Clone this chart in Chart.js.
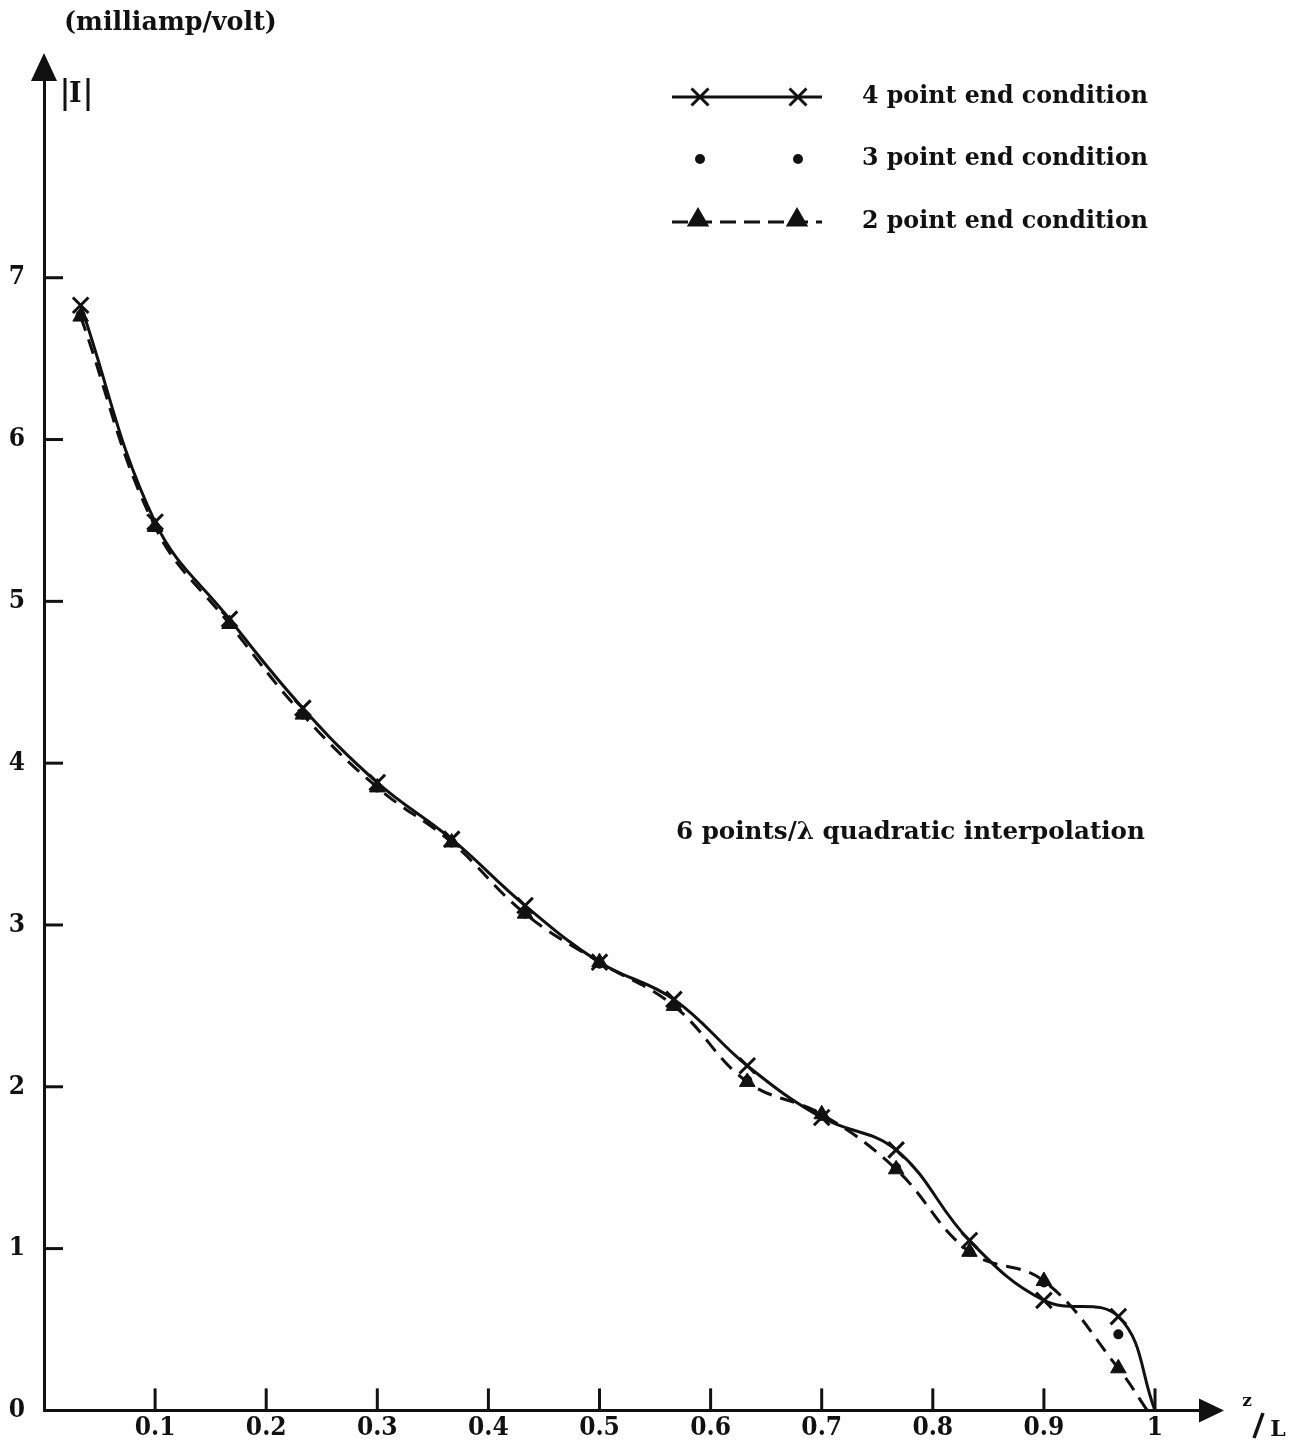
<!DOCTYPE html>
<html>
<head>
<meta charset="utf-8">
<script src="https://cdn.jsdelivr.net/npm/chart.js@4/dist/chart.umd.min.js"></script>
<style>
  html, body { margin: 0; padding: 0; background: #ffffff; }
  #wrap { width: 1290px; height: 1445px; }
</style>
</head>
<body>
<div id="wrap"><canvas id="c" width="1290" height="1445"></canvas></div>
<script>
// ---- data ----
const zPoints = [0.033, 0.1, 0.167, 0.233, 0.3, 0.367, 0.433, 0.5, 0.567, 0.633, 0.7, 0.767, 0.833, 0.9, 0.967];
const fourPoint = [6.83, 5.49, 4.89, 4.34, 3.88, 3.53, 3.12, 2.77, 2.54, 2.13, 1.81, 1.61, 1.05, 0.68, 0.58];
const threePoint = [6.77, 5.46, 4.86, 4.30, 3.85, 3.51, 3.07, 2.76, 2.50, 2.04, 1.82, 1.50, 0.98, 0.79, 0.47];
const twoPoint = [6.76, 5.46, 4.86, 4.30, 3.85, 3.51, 3.07, 2.77, 2.50, 2.03, 1.83, 1.49, 0.98, 0.80, 0.26];
const fourEnd = { x: 1.0, y: 0 };     // solid curve reaches the axis here (no marker)
const twoEnd = { x: 0.993, y: 0 };    // dashed curve reaches the axis here (no marker)

const xTickValues = [0.1, 0.2, 0.3, 0.4, 0.5, 0.6, 0.7, 0.8, 0.9, 1.0];
const xTickLabels = ['0.1', '0.2', '0.3', '0.4', '0.5', '0.6', '0.7', '0.8', '0.9', '1'];
const yTickValues = [0, 1, 2, 3, 4, 5, 6, 7];
const yTickLabels = ['0', '1', '2', '3', '4', '5', '6', '7'];

const legendLabels = ['4 point end condition', '3 point end condition', '2 point end condition'];
const yUnitText = '(milliamp/volt)';
const noteText = '6 points/\u03bb quadratic interpolation';

const FONT = '"DejaVu Serif", "Liberation Serif", serif';
const TICKFONT = '"DejaVu Serif Condensed", "DejaVu Serif", serif';
const INK = '#111111';

function pts(xs, ys, end) {
  const out = xs.map((x, i) => ({ x: x, y: ys[i] }));
  if (end) out.push(end);
  return out;
}
function radii(n, r, hasEnd) {
  const a = new Array(n).fill(r);
  if (hasEnd) a.push(0);
  return a;
}

function fitSize(ctx, text, width, weight) {
  ctx.font = weight + ' 100px ' + FONT;
  return 100 * width / ctx.measureText(text).width;
}
function drawFitted(ctx, text, x, y, width, weight) {
  const s = fitSize(ctx, text, width, weight);
  ctx.font = weight + ' ' + s.toFixed(2) + 'px ' + FONT;
  ctx.textAlign = 'left';
  ctx.textBaseline = 'middle';
  ctx.fillText(text, x, y);
}

const decorPlugin = {
  id: 'decor',
  afterDraw(chart) {
    const ctx = chart.ctx;
    const xs = chart.scales.x, ys = chart.scales.y;
    const area = chart.chartArea;
    ctx.save();
    ctx.strokeStyle = INK;
    ctx.fillStyle = INK;
    ctx.lineCap = 'butt';

    // inward tick marks
    ctx.lineWidth = 3;
    xTickValues.forEach(v => {
      const px = xs.getPixelForValue(v);
      ctx.beginPath(); ctx.moveTo(px, area.bottom); ctx.lineTo(px, area.bottom - 22); ctx.stroke();
    });
    yTickValues.forEach(v => {
      if (v === 0) return;
      const py = ys.getPixelForValue(v);
      ctx.beginPath(); ctx.moveTo(area.left, py); ctx.lineTo(area.left + 19, py); ctx.stroke();
    });

    // axis arrows
    const x0 = xs.getPixelForValue(0);
    const y0 = ys.getPixelForValue(0);
    ctx.beginPath();
    ctx.moveTo(x0, area.top - 27); ctx.lineTo(x0 - 13, area.top + 1); ctx.lineTo(x0 + 13, area.top + 1); ctx.closePath(); ctx.fill();
    ctx.beginPath();
    ctx.moveTo(area.right + 24, y0); ctx.lineTo(area.right - 1, y0 - 12); ctx.lineTo(area.right - 1, y0 + 12); ctx.closePath(); ctx.fill();

    // axis names
    drawFitted(ctx, yUnitText, 64, 23, 213, 'bold');
    ctx.font = 'bold 27px ' + FONT;
    ctx.textAlign = 'left'; ctx.textBaseline = 'middle';
    ctx.fillText('I', 69, 95);
    ctx.lineWidth = 3;
    ctx.beginPath(); ctx.moveTo(65, 78); ctx.lineTo(65, 111); ctx.stroke();
    ctx.beginPath(); ctx.moveTo(88, 78); ctx.lineTo(88, 111); ctx.stroke();

    ctx.font = 'bold 17px ' + FONT;
    ctx.textAlign = 'center'; ctx.textBaseline = 'middle';
    ctx.fillText('z', 1247, 1402);
    ctx.lineWidth = 3.5;
    ctx.beginPath(); ctx.moveTo(1263, 1413); ctx.lineTo(1254, 1438); ctx.stroke();
    ctx.font = 'bold 22px ' + FONT;
    ctx.fillText('L', 1278, 1430);

    // legend
    const lx1 = 672, lx2 = 822, mA = 700, mB = 798;
    const rows = [97, 159, 222];
    const textX = 862, textW = 286;
    // row 1: solid with crosses
    ctx.lineWidth = 3; ctx.setLineDash([]);
    ctx.beginPath(); ctx.moveTo(lx1, rows[0]); ctx.lineTo(lx2, rows[0]); ctx.stroke();
    [mA, mB].forEach(mx => Chart.helpers.drawPoint(ctx, { pointStyle: 'crossRot', radius: 12, borderWidth: 3, rotation: 0 }, mx, rows[0]));
    // row 2: dots
    [mA, mB].forEach(mx => {
      ctx.beginPath(); ctx.arc(mx, rows[1], 5, 0, Math.PI * 2); ctx.fill();
    });
    // row 3: dashed with triangles
    ctx.lineWidth = 3; ctx.setLineDash([16, 8]);
    ctx.beginPath(); ctx.moveTo(lx1, rows[2]); ctx.lineTo(lx2, rows[2]); ctx.stroke();
    ctx.setLineDash([]);
    [698, 797].forEach(mx => Chart.helpers.drawPoint(ctx, { pointStyle: 'triangle', radius: 10, borderWidth: 1, rotation: 0 }, mx, rows[2] - 2));
    ctx.fillStyle = INK;
    legendLabels.forEach((t, i) => drawFitted(ctx, t, textX, rows[i], textW, 'bold'));

    // note
    drawFitted(ctx, noteText, 676, 833, 469, 'bold');
    ctx.restore();
  }
};

const ctxEl = document.getElementById('c');
new Chart(ctxEl, {
  type: 'line',
  data: {
    datasets: [
      {
        label: legendLabels[0],
        data: pts(zPoints, fourPoint, fourEnd),
        borderColor: INK, backgroundColor: INK,
        borderWidth: 3,
        tension: 0.4,
        pointStyle: 'crossRot',
        pointRadius: radii(zPoints.length, 11, true),
        pointBorderWidth: 3,
        pointBorderColor: INK,
        fill: false
      },
      {
        label: legendLabels[2],
        data: pts(zPoints, twoPoint, twoEnd),
        borderColor: INK, backgroundColor: INK,
        borderWidth: 3,
        borderDash: [15, 9],
        tension: 0.4,
        pointStyle: 'triangle',
        pointRadius: radii(zPoints.length, 9, true),
        pointBorderWidth: 1,
        pointBackgroundColor: INK,
        pointBorderColor: INK,
        fill: false
      },
      {
        label: legendLabels[1],
        data: pts(zPoints, threePoint, null),
        showLine: false,
        pointStyle: 'circle',
        pointRadius: 5,
        pointBorderWidth: 0,
        pointBackgroundColor: INK,
        pointBorderColor: INK
      }
    ]
  },
  options: {
    responsive: false,
    animation: false,
    events: [],
    layout: { padding: { left: 0, top: 80, right: 90, bottom: 0 } },
    plugins: { legend: { display: false }, tooltip: { enabled: false }, title: { display: false } },
    scales: {
      x: {
        type: 'linear',
        min: 0,
        max: 1.0405,
        afterBuildTicks: (s) => { s.ticks = xTickValues.map(v => ({ value: v })); },
        afterFit: (s) => { s.height = 33; },
        grid: { display: true, drawOnChartArea: false, drawTicks: false, color: 'rgba(0,0,0,0)' },
        border: { display: true, color: INK, width: 3 },
        ticks: {
          autoSkip: false, maxRotation: 0, padding: 2, color: INK,
          font: { family: TICKFONT, weight: 'bold', size: 26 },
          callback: (v) => { const i = xTickValues.indexOf(v); return i >= 0 ? xTickLabels[i] : ''; }
        }
      },
      y: {
        type: 'linear',
        min: 0,
        max: 8.222,
        afterBuildTicks: (s) => { s.ticks = yTickValues.map(v => ({ value: v })); },
        afterFit: (s) => { s.width = 44; },
        grid: { display: true, drawOnChartArea: false, drawTicks: false, color: 'rgba(0,0,0,0)' },
        border: { display: true, color: INK, width: 3 },
        ticks: {
          autoSkip: false, padding: 19, color: INK,
          font: { family: TICKFONT, weight: 'bold', size: 26 },
          callback: (v) => { const i = yTickValues.indexOf(v); return i >= 0 ? yTickLabels[i] : ''; }
        }
      }
    }
  },
  plugins: [decorPlugin]
});
</script>
</body>
</html>
